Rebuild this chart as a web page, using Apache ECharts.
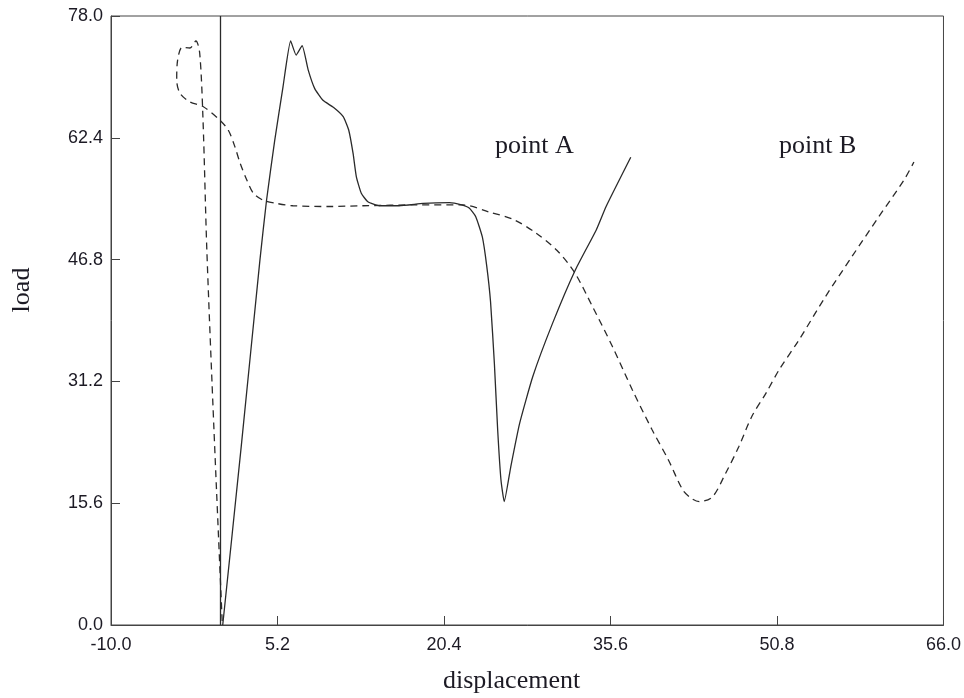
<!DOCTYPE html>
<html>
<head>
<meta charset="utf-8">
<script src="https://cdn.jsdelivr.net/npm/echarts@6/dist/echarts.min.js"></script>
<style>html,body{margin:0;padding:0;background:#fff;}#c{width:964px;height:698px;}</style>
</head>
<body>
<div id="c"></div>
<script>
// displacement / load pairs, path order
const pointA = [
  [0.2,0],[1.9,23],[3.6,46.8],[4.2,54.4],[4.95,62.1],[5.7,68.9],[6.4,74.8],[6.9,73.0],[7.45,74.2],
  [8.0,71.1],[8.6,68.7],[9.35,67.2],[10.3,66.3],[11.2,65.1],[11.7,63.4],[12.1,60.4],[12.4,57.4],
  [12.85,55.3],[13.45,54.2],[14.5,53.7],[16.3,53.7],[18.5,54.0],[20.9,54.1],[22.0,53.8],[22.7,53.4],
  [23.3,52.3],[23.9,49.7],[24.3,46.0],[24.65,41.4],[25.0,33.5],[25.3,25.0],[25.6,18.6],[25.9,15.8],
  [26.5,20.3],[27.3,25.8],[28.5,31.8],[30.3,38.6],[32.4,45.5],[34.3,50.6],[35.2,53.6],[37.45,59.9]
];
const pointB = [
  [0.15,0.5],[-0.6,25],[-1.25,48],[-1.6,64.7],[-1.9,73.2],[-2.25,74.8],[-2.8,73.9],[-3.5,74.0],
  [-3.95,72.0],[-4.0,69.8],[-3.7,68.1],[-2.8,67.0],[-1.6,66.4],[-0.1,64.7],[0.7,63.4],[1.3,61.3],
  [1.8,59.1],[2.4,57.0],[3.0,55.3],[3.9,54.4],[5.1,54.0],[6.6,53.7],[10.0,53.6],[13.0,53.7],
  [18.0,53.8],[22.1,53.8],[24.5,52.9],[26.8,51.9],[28.8,50.2],[30.7,48.0],[32.3,45.2],[33.95,40.8],
  [35.8,35.6],[37.6,30.1],[39.4,25.0],[40.9,21.1],[42.2,17.3],[43.0,16.2],[43.7,15.8],[44.9,16.4],
  [46.1,19.4],[47.3,22.8],[48.5,26.7],[49.8,29.7],[51.0,32.7],[52.8,36.5],[55.2,42.0],[57.65,47.2],
  [60.1,52.3],[62.4,57.0],[63.3,59.3]
];
const xTicks = [-10.0, 5.2, 20.4, 35.6, 50.8, 66.0];
const yTicks = [0.0, 15.6, 31.2, 46.8, 62.4, 78.0];
const labels = ['point A', 'point B'];

const lineColor = '#2a2a2a';
const textColor = '#1c1a24';
const chart = echarts.init(document.getElementById('c'));
chart.setOption({
  backgroundColor: '#fff',
  animation: false,
  grid: {left: 111, right: 19, top: 16, bottom: 73, show: true, borderColor: '#444', borderWidth: 1},
  xAxis: {
    type: 'value', min: xTicks[0], max: xTicks[xTicks.length-1], interval: 15.2,
    axisLine: {onZero: false, lineStyle: {color: '#444', width: 1}},
    axisTick: {inside: true, length: 9, lineStyle: {color: '#444'}},
    splitLine: {show: false},
    axisLabel: {margin: 11, color: textColor, fontFamily: 'Liberation Sans, Arial, sans-serif', fontSize: 18,
      formatter: v => (Math.round(v*10)/10).toFixed(1)}
  },
  yAxis: {
    type: 'value', min: yTicks[0], max: yTicks[yTicks.length-1], interval: 15.6,
    axisLine: {show: true, onZero: false, lineStyle: {color: '#444', width: 1}},
    axisTick: {show: true, inside: true, length: 9, lineStyle: {color: '#444'}},
    splitLine: {show: false},
    axisLabel: {margin: 8, color: textColor, fontFamily: 'Liberation Sans, Arial, sans-serif', fontSize: 18,
      formatter: v => (Math.round(v*10)/10).toFixed(1)}
  },
  graphic: [
    {type: 'text', left: 495, top: 133, style: {text: labels[0], fill: textColor, font: '26px "Liberation Serif", "Times New Roman", serif'}},
    {type: 'text', left: 779, top: 133, style: {text: labels[1], fill: textColor, font: '26px "Liberation Serif", "Times New Roman", serif'}},
    {type: 'text', left: 443, top: 668, style: {text: 'displacement', fill: textColor, font: '26px "Liberation Serif", "Times New Roman", serif'}},
    {type: 'text', x: 22, y: 290, rotation: Math.PI/2, style: {text: 'load', fill: textColor, align: 'center', verticalAlign: 'middle', font: '26px "Liberation Serif", "Times New Roman", serif'}}
  ],
  series: [
    {
      type: 'line', data: pointA, showSymbol: false, smooth: 0.15, z: 3,
      lineStyle: {color: lineColor, width: 1.3, type: 'solid'},
      markLine: {silent: true, symbol: 'none', label: {show: false},
        lineStyle: {color: lineColor, width: 1.3, type: 'solid'}, data: [{xAxis: 0}]}
    },
    {
      type: 'line', data: pointB, showSymbol: false, smooth: 0.3, z: 3,
      lineStyle: {color: lineColor, width: 1.3, type: [7, 5]}
    }
  ]
});
</script>
</body>
</html>
